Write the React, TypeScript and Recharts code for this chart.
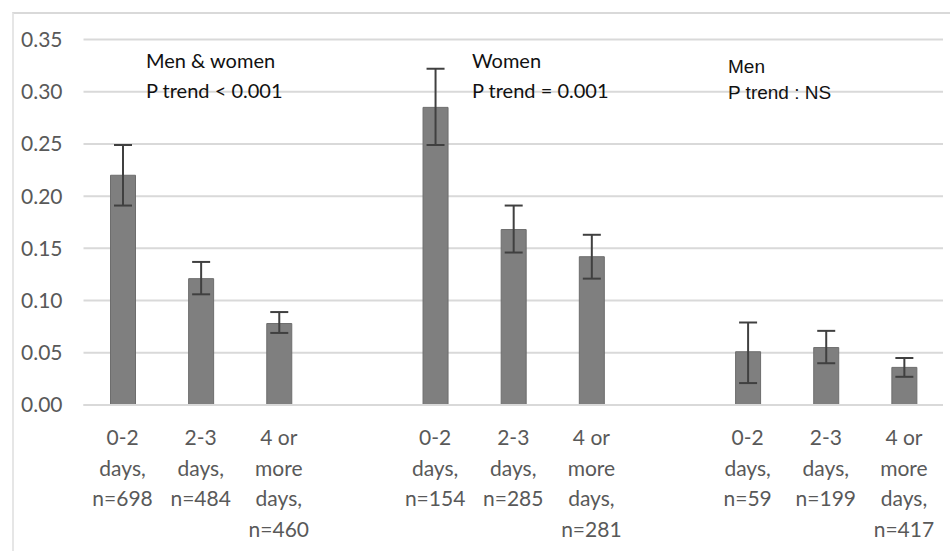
import { Bar, BarChart, CartesianGrid, ErrorBar, XAxis, YAxis } from "recharts";

const categories = ["mw02", "mw23", "mw4", "gap1", "w02", "w23", "w4", "gap2", "m02", "m23", "m4"];
const tickLabels = [
  ["0-2", "days,", "n=698"],
  ["2-3", "days,", "n=484"],
  ["4 or", "more", "days,", "n=460"],
  [],
  ["0-2", "days,", "n=154"],
  ["2-3", "days,", "n=285"],
  ["4 or", "more", "days,", "n=281"],
  [],
  ["0-2", "days,", "n=59"],
  ["2-3", "days,", "n=199"],
  ["4 or", "more", "days,", "n=417"]
];
const means = [0.22, 0.121, 0.078, null, 0.285, 0.168, 0.142, null, 0.051, 0.055, 0.036];
const ciLow = [0.191, 0.106, 0.069, null, 0.249, 0.146, 0.121, null, 0.021, 0.04, 0.027];
const ciHigh = [0.249, 0.137, 0.089, null, 0.322, 0.191, 0.163, null, 0.079, 0.071, 0.045];
const yTicks = [0, 0.05, 0.1, 0.15, 0.2, 0.25, 0.3, 0.35];

const data = categories.map((name, i) => {
  const m = means[i];
  const lo = ciLow[i];
  const hi = ciHigh[i];
  return {
    name,
    value: m,
    err: m == null || lo == null || hi == null ? undefined : [m - lo, hi - m]
  };
});

const FONT = "Lato, 'Open Sans', sans-serif";

function CategoryTick({ x, y, payload }: any) {
  const lines = tickLabels[payload.index] || [];
  return (
    <text x={x} y={y + 40} textAnchor="middle" fill="#595959" fontFamily={FONT} fontSize={21}>
      {lines.map((line, i) => (
        <tspan key={i} x={x} dy={i === 0 ? 0 : 30.5}>
          {line}
        </tspan>
      ))}
    </text>
  );
}

export default function App() {
  return (
    <div style={{ position: "absolute", left: 0, top: 0, width: 950, height: 551, background: "#fff", overflow: "hidden" }}>
      <div
        style={{
          position: "absolute",
          left: 12,
          top: 12,
          width: 960,
          height: 560,
          borderTop: "2px solid #d9d9d9",
          borderLeft: "2px solid #e6e6e6"
        }}
      />
      <BarChart
        width={950}
        height={551}
        data={data}
        margin={{ top: 39.5, right: 7, bottom: 116, left: 0 }}
        style={{ position: "absolute", left: 0, top: 0 }}
      >
        <CartesianGrid stroke="#d9d9d9" strokeWidth={2} vertical={false} />
        <XAxis
          dataKey="name"
          height={30}
          axisLine={{ stroke: "#d9d9d9", strokeWidth: 2 }}
          tickLine={false}
          interval={0}
          tick={<CategoryTick />}
          tickMargin={0}
          tickSize={0}
        />
        <YAxis
          width={83.5}
          domain={[0, 0.35]}
          ticks={yTicks}
          tickFormatter={(v: number) => v.toFixed(2)}
          axisLine={false}
          tickLine={false}
          tickSize={0}
          tickMargin={21}
          tick={{ fill: "#595959", fontFamily: FONT, fontSize: 21 }}
        />
        <Bar dataKey="value" fill="#7f7f7f" stroke="#6d6d6d" strokeWidth={1} barSize={25} isAnimationActive={false}>
          <ErrorBar dataKey="err" width={9} stroke="#404040" strokeWidth={2} direction="y" isAnimationActive={false} />
        </Bar>
      </BarChart>
      <div style={{ position: "absolute", left: 146, top: 45, fontFamily: FONT, fontSize: 20, lineHeight: "30px", color: "#111" }}>
        Men &amp; women
        <br />P trend &lt; 0.001
      </div>
      <div style={{ position: "absolute", left: 472, top: 45, fontFamily: FONT, fontSize: 20, lineHeight: "30px", color: "#111" }}>
        Women
        <br />P trend = 0.001
      </div>
      <div
        style={{
          position: "absolute",
          left: 728,
          top: 54,
          fontFamily: "'Liberation Sans', Arial, sans-serif",
          fontSize: 19,
          lineHeight: "26px",
          color: "#111"
        }}
      >
        Men
        <br />P trend : NS
      </div>
    </div>
  );
}
